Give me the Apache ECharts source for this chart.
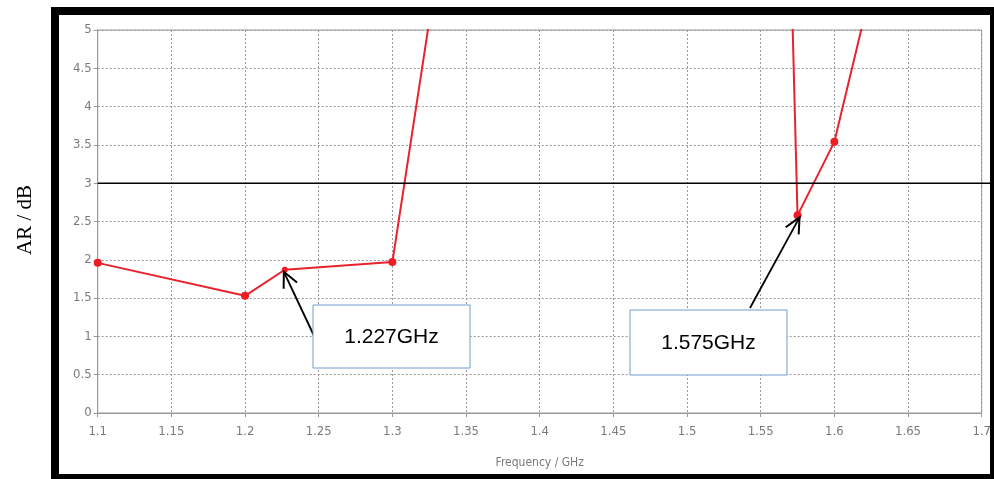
<!DOCTYPE html>
<html><head><meta charset="utf-8">
<script src="https://cdn.jsdelivr.net/npm/echarts@6/dist/echarts.min.js"></script>
<style>html,body{margin:0;padding:0;background:#fff}#c{width:994px;height:479px}</style>
</head><body><div id="c"></div>
<script>
const freqs = [1.1, 1.2, 1.227, 1.3, 1.35, 1.55, 1.575, 1.6, 1.65];
const arValues = [1.96, 1.53, 1.87, 1.97, 8.25, 21, 2.58, 3.54, 7.55];
const markerShown = [true, true, true, true, false, false, true, true, false];
const threshold = 3;
const annotations = [
  {label: '1.227GHz', freq: 1.227, ar: 1.87},
  {label: '1.575GHz', freq: 1.575, ar: 2.58}
];
const yName = 'AR / dB';
const xName = 'Frequency / GHz';

const chart = echarts.init(document.getElementById('c'));
const tickFont = {color: '#7a7a7a', fontSize: 13, fontFamily: "'DejaVu Sans Condensed','DejaVu Sans',sans-serif"};
const data = freqs.map((f, i) => ({value: [f, arValues[i]], symbolSize: markerShown[i] ? (i === 2 ? 6 : 8) : 0}));
chart.setOption({
  animation: false,
  grid: {left: 97.7, right: 11.3, top: 30, bottom: 66, show: true, borderColor: '#999', borderWidth: 1},
  xAxis: {
    type: 'value', min: 1.1, max: 1.7, interval: 0.05,
    name: xName, nameLocation: 'middle', nameGap: 44,
    nameTextStyle: {color: '#7a7a7a', fontSize: 12, fontFamily: tickFont.fontFamily},
    axisLine: {show: true, lineStyle: {color: '#999'}},
    axisTick: {show: true, length: 4, lineStyle: {color: '#999'}},
    axisLabel: Object.assign({formatter: v => String(+v.toFixed(2)), margin: 12}, tickFont),
    splitLine: {show: true, lineStyle: {color: '#999', type: [2, 2]}}
  },
  yAxis: {
    type: 'value', min: 0, max: 5, interval: 0.5,
    axisLine: {show: true, lineStyle: {color: '#999'}},
    axisTick: {show: true, length: 4, lineStyle: {color: '#999'}},
    axisLabel: Object.assign({formatter: v => String(+v.toFixed(1)), margin: 6}, tickFont),
    splitLine: {show: true, lineStyle: {color: '#999', type: [2, 2]}}
  },
  series: [{
    type: 'line', data: data, symbol: 'circle', clip: true,
    lineStyle: {color: '#e8232d', width: 2},
    itemStyle: {color: '#ee1c25'}
  }]
});

function draw() {
  const g = [];
  g.push({type: 'rect', shape: {x: 55, y: 11, width: 939, height: 467}, style: {fill: 'none', stroke: '#000', lineWidth: 8}, z: 100});
  g.push({type: 'text', x: 25, y: 220, rotation: Math.PI / 2, style: {text: yName, fill: '#000', font: "21px 'Liberation Serif', serif", textAlign: 'center', textVerticalAlign: 'middle'}, z: 100});
  const p0 = chart.convertToPixel({gridIndex: 0}, [1.1, threshold]);
  g.push({type: 'line', shape: {x1: p0[0], y1: p0[1], x2: 990, y2: p0[1]}, style: {stroke: '#000', lineWidth: 1.5}, z: 50});
  const boxes = [{x: 313, y: 305, w: 157, h: 63, tail: [316, 340]}, {x: 630, y: 310, w: 157, h: 65, tail: [750, 308]}];
  annotations.forEach((a, i) => {
    const b = boxes[i];
    const tip = chart.convertToPixel({gridIndex: 0}, [a.freq, a.ar]);
    const tx = tip[0] + (i === 0 ? -1 : 2), ty = tip[1] + 2;
    g.push({type: 'line', shape: {x1: b.tail[0], y1: b.tail[1], x2: tx, y2: ty}, style: {stroke: '#000', lineWidth: 1.8}, z: 60});
    const ang = Math.atan2(b.tail[1] - ty, b.tail[0] - tx);
    const L = 17, s = 0.45;
    g.push({type: 'polyline', shape: {points: [
      [tx + L * Math.cos(ang + s), ty + L * Math.sin(ang + s)], [tx, ty],
      [tx + L * Math.cos(ang - s), ty + L * Math.sin(ang - s)]]}, style: {stroke: '#000', lineWidth: 2, fill: 'none'}, z: 60});
    g.push({type: 'rect', shape: {x: b.x, y: b.y, width: b.w, height: b.h}, style: {fill: '#fff', stroke: '#6f9bd1', lineWidth: 1}, z: 70});
    g.push({type: 'text', x: b.x + b.w / 2, y: b.y + b.h / 2 + 1, style: {text: a.label, fill: '#000', font: "21px 'Liberation Sans', sans-serif", textAlign: 'center', textVerticalAlign: 'middle'}, z: 71});
  });
  chart.setOption({graphic: g});
}
draw();
</script></body></html>
